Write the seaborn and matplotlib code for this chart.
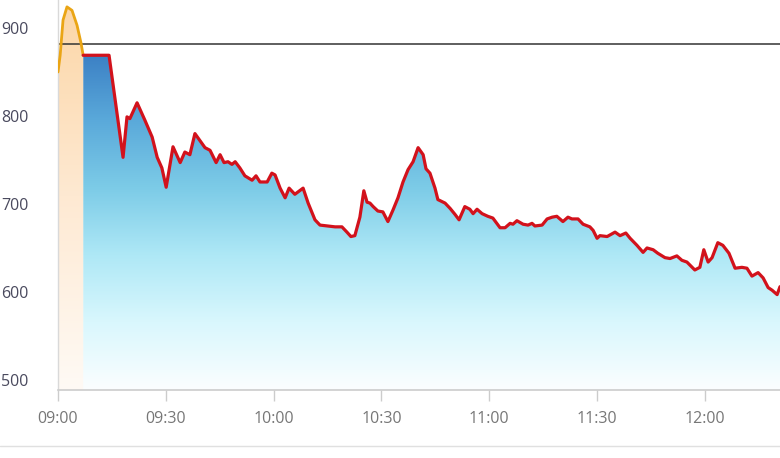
import numpy as np
import pandas as pd
import matplotlib
matplotlib.use("Agg")
import matplotlib.pyplot as plt
import seaborn as sns
from matplotlib.colors import LinearSegmentedColormap
from matplotlib.lines import Line2D

# minutes after 09:00 and index values
pre_minutes = [0.0, 0.6, 1.4, 2.5, 3.9, 5.3, 6.4, 7.0]
pre_values = [850, 869, 909, 924, 920, 903, 883, 869]

main_minutes = [7.0, 14.2, 18.1, 19.2, 20.0, 22.0, 24.2, 26.2, 27.6, 28.9, 30.1, 32.0, 34.0,
                35.3, 36.7, 38.1, 40.9, 42.3, 44.0, 45.1, 46.2, 47.3, 48.4, 49.3, 50.6, 52.0,
                54.0, 55.1, 56.2, 58.2, 59.5, 60.4, 61.8, 63.2, 64.3, 65.9, 68.2, 69.6, 71.5,
                72.9, 74.9, 77.1, 79.0, 80.4, 81.5, 82.6, 84.0, 85.1, 86.0, 86.8, 87.7, 89.0,
                90.4, 91.8, 93.2, 94.6, 96.0, 97.4, 98.8, 100.2, 101.6, 102.4, 103.5, 104.9,
                105.7, 107.7, 109.1, 110.5, 111.6, 113.2, 114.6, 115.5, 116.6, 118.0, 119.6,
                121.0, 123.0, 124.4, 125.8, 126.6, 127.7, 129.4, 130.8, 131.9, 132.7, 134.7,
                136.1, 137.5, 138.8, 140.5, 141.9, 143.0, 144.7, 146.1, 148.0, 148.9, 150.0,
                150.8, 152.8, 155.0, 156.4, 158.0, 159.2, 161.1, 162.8, 163.9, 164.7, 165.6,
                166.9, 168.9, 170.3, 172.2, 173.6, 175.0, 177.2, 178.6, 179.7, 180.9, 182.0,
                183.6, 185.0, 186.7, 188.4, 190.3, 191.7, 193.1, 194.8, 196.2, 197.6, 198.7,
                200.1, 200.9]
main_values = [869, 869, 753, 799, 797, 815, 795, 776, 753, 741, 719, 765, 747,
               759, 756, 780, 764, 761, 747, 756, 747, 748, 745, 748, 741, 732,
               727, 732, 725, 725, 735, 733, 718, 707, 718, 711, 718, 701, 682,
               676, 675, 674, 674, 668, 663, 664, 685, 715, 702, 701, 697, 692,
               691, 680, 693, 707, 725, 739, 748, 764, 756, 740, 735, 718,
               705, 701, 695, 688, 682, 697, 694, 689, 694, 689, 686,
               684, 673, 673, 678, 677, 681, 677, 676, 678, 675, 676,
               683, 685, 686, 680, 685, 683, 683, 677, 674, 670, 661,
               664, 663, 668, 664, 667, 661, 653, 645, 650, 649, 648,
               644, 639, 638, 641, 636, 634, 625, 628, 648, 634, 639,
               656, 653, 644, 627, 628, 627, 618, 622, 616, 605, 602,
               597, 606]

ref_level = 882
tick_minutes = [0, 30, 60, 90, 120, 150, 180]
tick_labels = ["09:00", "09:30", "10:00", "10:30", "11:00", "11:30", "12:00"]
y_ticks = [500, 600, 700, 800, 900]

sns.set_style("white")
plt.rcParams['font.family'] = ['Open Sans', 'DejaVu Sans']

fig = plt.figure(figsize=(7.8, 4.58), dpi=100)
ax = fig.add_axes([58 / 780, 68 / 458, 722 / 780, 390 / 458])

ymin, ymax = 488.6, 931.8
xmax = 200.9

# gradient fills clipped to the area under each line
blue_cmap = LinearSegmentedColormap.from_list(
    "blue", ["#fbfeff", "#d9f7fd", "#aee8f6", "#7ccbe7", "#5aa9da", "#3b7fc4"])
orange_cmap = LinearSegmentedColormap.from_list(
    "orange", ["#fffaf5", "#fee9d2", "#fcd6a6"])
grad = np.linspace(0, 1, 256).reshape(-1, 1)

poly = ax.fill_between(main_minutes, main_values, ymin, color="none", lw=0)
img = ax.imshow(grad, cmap=blue_cmap, aspect="auto", origin="lower",
                extent=[main_minutes[0], xmax, ymin, 872], zorder=1)
img.set_clip_path(poly.get_paths()[0], transform=ax.transData)

poly2 = ax.fill_between(pre_minutes, pre_values, ymin, color="none", lw=0)
img2 = ax.imshow(grad, cmap=orange_cmap, aspect="auto", origin="lower",
                 extent=[0, pre_minutes[-1], ymin, 930], zorder=1)
img2.set_clip_path(poly2.get_paths()[0], transform=ax.transData)

ax.axhline(ref_level, color="#333333", lw=1.1, zorder=2)

pre_df = pd.DataFrame({"minute": pre_minutes, "value": pre_values})
main_df = pd.DataFrame({"minute": main_minutes, "value": main_values})
sns.lineplot(data=pre_df, x="minute", y="value", ax=ax, color="#eaa515", lw=2, sort=False, zorder=3)
sns.lineplot(data=main_df, x="minute", y="value", ax=ax, color="#d2121c", lw=2.3, sort=False, zorder=4)

ax.set_xlim(0, xmax)
ax.set_ylim(ymin, ymax)
ax.set_xticks(tick_minutes)
ax.set_xticklabels(tick_labels)
ax.set_yticks(y_ticks)
ax.set_xlabel("")
ax.set_ylabel("")

ax.tick_params(axis="x", length=8, width=1, color="#cccccc", pad=7, labelsize=11.5, labelcolor="#777777", bottom=True)
ax.tick_params(axis="y", length=0, pad=21, labelsize=11.5, labelcolor="#4a4a5e")

for side in ["top", "right"]:
    ax.spines[side].set_visible(False)
ax.spines["left"].set_color("#d9d9d9")
ax.spines["left"].set_linewidth(1)
ax.spines["bottom"].set_color("#cccccc")
ax.spines["bottom"].set_linewidth(1.2)

fig.add_artist(Line2D([0, 1], [12 / 458, 12 / 458], color="#e0e0e0", lw=1))

plt.savefig("out.png", dpi=100)
plt.close()
